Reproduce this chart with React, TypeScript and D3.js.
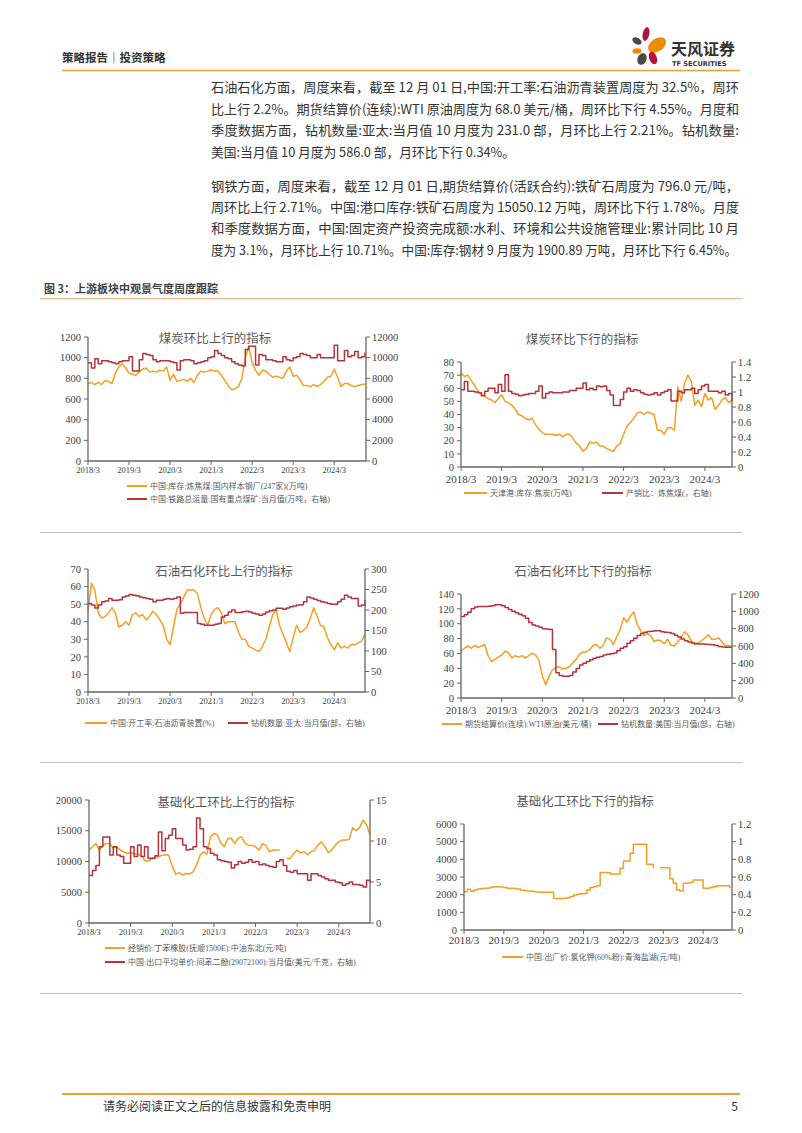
import React from "react";
import * as d3 from "d3";

// ---------- shared ----------
const X_TICK_LABELS = ["2018/3", "2019/3", "2020/3", "2021/3", "2022/3", "2023/3", "2024/3"];
const ORANGE = "#F5A020";
const RED = "#B5343C";

// ---------- chart 1: 煤炭环比上行 ----------
const coalUpTitle = "煤炭环比上行的指标";
const cokingCoalStock = [
  750, 760, 740, 760, 740, 780, 770, 750, 850, 910,
  940, 900, 850, 840, 830, 860, 890, 900, 860, 870,
  860, 880, 870, 910, 780, 840, 770, 780, 790, 770,
  800, 760, 830, 870, 860, 870, 880, 870, 870, 830,
  780, 730, 690, 700, 720, 800, 1000, 1110, 950, 880,
  830, 880, 870, 840, 810, 820, 810, 800, 870, 910,
  820, 830, 790, 730, 730, 720, 740, 720, 740, 770,
  810, 820, 890, 810, 720, 750, 750, 730, 720, 730,
  740, 745,
];
const railFreight = [
  9500, 9000, 9900, 9400, 9700, 9700, 9600, 9500, 9400, 9600,
  9700, 9700, 10100, 8700, 8700, 9800, 10400, 10300, 10200, 9800,
  9600, 9700, 9700, 9700, 9600, 9500, 8800, 9700, 9800, 9800,
  9700, 9400, 9500, 9600, 9700, 10000, 10100, 10700, 10400, 10200,
  10000, 9900, 9600, 9400, 9300, 9200, 10800, 11100, 11100, 9300,
  10300, 10200, 9800, 9800, 9700, 9600, 9600, 10100, 9800, 9700,
  10000, 10100, 10400, 10300, 10200, 10000, 10000, 10300, 10000, 10000,
  10000, 10000, 11200, 9700, 9700, 10700, 10100, 10200, 10600, 10000,
  10100, 10500,
];
const coalUpLegend = ["中国:库存:炼焦煤:国内样本钢厂(247家)(万吨)", "中国:铁路总运量:国有重点煤矿:当月值(万吨，右轴)"];

// ---------- chart 2: 煤炭环比下行 ----------
const coalDownTitle = "煤炭环比下行的指标";
const tianjinCokeStock = [
  72, 69, 70, 66, 62, 58, 56, 54, 52, 51,
  49, 52, 55, 50, 49, 47, 44, 40, 39, 37,
  36, 37, 32, 29, 26, 25, 25, 25, 24, 25,
  23, 25, 25, 22, 18, 16, 12, 14, 19, 18,
  19, 16, 16, 14, 13, 12, 16, 18, 25, 31,
  34, 37, 41, 42, 40, 42, 41, 40, 28, 28,
  25, 30, 30, 28, 61, 50, 64, 70, 65, 47,
  51, 46, 56, 51, 53, 44, 47, 51, 53, 49,
  51,
];
const cokingSalesRatio = [
  1.03, 1.14, 1.01, 1.01, 1.0, 0.99, 0.95, 1.01, 1.05, 1.05,
  0.99, 1.1, 1.01, 1.23, 1.01, 0.98, 0.97, 0.95, 0.96, 0.97,
  0.98, 0.98, 1.01, 1.08, 0.92, 0.98, 1.0, 0.99, 0.99, 0.99,
  1.0, 1.0, 1.02, 1.02, 1.05, 1.05, 1.12, 1.03, 1.05, 1.03,
  1.08, 1.07, 1.08, 1.02, 0.96, 0.82, 0.82, 0.9, 1.0, 1.05,
  1.01, 1.03, 1.02, 0.99, 0.97, 0.96, 0.97, 0.99, 0.96, 0.99,
  1.01, 1.03, 0.88, 0.88, 1.01, 0.99, 1.03, 1.03, 1.05, 0.98,
  1.03, 1.08, 1.1, 1.01, 1.01, 1.01, 0.99, 1.01, 0.96, 0.98,
  0.88,
];
const coalDownLegend = ["天津港:库存:焦炭(万吨)", "产销比：炼焦煤(，右轴)"];

// ---------- chart 3: 石油石化环比上行 ----------
const oilUpTitle = "石油石化环比上行的指标";
const asphaltRate = [
  46, 62, 58, 45, 42, 43, 45, 48, 45, 37,
  38, 40, 38, 44, 45, 43, 44, 41, 43, 46,
  44, 41, 38, 30, 27, 37, 47, 50, 54, 58,
  58, 58, 56, 48, 42, 38, 44, 47, 48, 45,
  39, 40, 40, 40, 34, 30, 30, 26, 25, 24,
  23, 26, 30, 37, 44, 47, 38, 33, 28, 23,
  31, 38, 34, 35, 37, 42, 48, 43, 38, 37,
  31, 27, 24, 28, 25, 26, 25, 27, 27, 28,
  29, 33,
];
const apacRigs = [
  216, 212, 205, 212, 220, 222, 228, 224, 224, 225,
  232, 234, 238, 236, 235, 232, 230, 228, 226, 220,
  224, 224, 226, 228, 226, 228, 232, 192, 194, 194,
  194, 194, 167, 165, 163, 163, 163, 165, 167, 183,
  187, 195, 200, 194, 194, 196, 197, 195, 192, 190,
  187, 190, 195, 198, 200, 204, 204, 202, 205, 208,
  210, 212, 213, 220, 232, 229, 226, 223, 220, 218,
  216, 214, 214, 220, 226, 236, 232, 228, 228, 210,
  212, 225,
];
const oilUpLegend = ["中国:开工率:石油沥青装置(%)", "钻机数量:亚太:当月值(部，右轴)"];

// ---------- chart 4: 石油石化环比下行 ----------
const oilDownTitle = "石油石化环比下行的指标";
const wtiPrice = [
  63, 67, 70, 67, 71, 68, 70, 72, 57, 49,
  52, 55, 58, 63, 61, 54, 57, 55, 57, 54,
  57, 60, 58, 51, 30, 18, 29, 38, 41, 42,
  39, 40, 42, 47, 52, 59, 62, 62, 65, 71,
  72, 67, 71, 81, 79, 72, 83, 92, 108, 102,
  110, 116, 99, 91, 84, 87, 84, 76, 78, 77,
  73, 79, 71, 70, 76, 81, 89, 85, 77, 72,
  74, 77, 81, 85, 79, 79, 81, 76, 70, 71,
  69,
];
const usRigs = [
  940, 960, 990, 1030, 1050, 1055, 1055, 1055, 1060, 1065,
  1075, 1075, 1065, 1045, 1020, 1000, 985, 965, 950, 920,
  870, 843, 830, 815, 800, 795, 790, 560, 290, 260,
  250, 252, 260, 300, 340, 380, 400, 420, 440, 460,
  470, 480, 495, 506, 512, 520, 545, 575, 590, 633,
  660, 690, 720, 745, 760, 767, 770, 775, 775, 765,
  760, 755, 745, 725, 705, 680, 660, 645, 635, 625,
  622, 622, 621, 618, 613, 605, 595, 588, 585, 585,
  585,
];
const oilDownLegend = ["期货结算价(连续):WTI原油(美元/桶)", "钻机数量:美国:当月值(部，右轴)"];

// ---------- chart 5: 基础化工环比上行 ----------
const chemUpTitle = "基础化工环比上行的指标";
const sbrPrice = [
  11850, 12400, 12900, 11800, 12660, 12935, 12900, 12200, 12400, 11850,
  11580, 11300, 11450, 11300, 11200, 11030, 10200, 10000, 10400, 10600,
  10760, 11000, 11100, 11000, 9200, 7900, 8200, 7800, 8040, 8000,
  8300, 9400, 11000, 11580, 11200, 14000, 14560, 14300, 13000, 12400,
  13750, 13800, 12900, 13800, 14000, 13000, 12600, 12660, 12400, 11850,
  12900, 12600, 11580, 11850, 11850, 11850, null, 10490, 10500, 11300,
  11850, 11400, 11580, 11100, 11580, 11850, 12660, 13200, 12400, 11450,
  11900, 12660, 13200, 13480, 13480, 13600, 15500, 15000, 15500, 16700,
  16000, 14300,
];
const resorcinolPrice = [
  5.8, 6.4, 7.0, 9.3, 10.5, 10.5, 8.3, 9.3, 8.3, 8.1,
  7.3, 7.3, 9.3, 8.1, 9.5, 8.1, 9.3, 7.9, 7.9, 8.2,
  11.1, 8.8, 10.3, 10.7, 11.5, 10.3, 10.3, 9.5, 8.9, 9.0,
  9.3, 12.8, 11.5, 9.3, 9.1, 8.5, 8.3, 7.7, 7.6, 7.5,
  7.4, 6.7, 7.1, 7.5, 7.3, 7.4, 7.7, 7.4, 7.5, 7.1,
  7.2, 7.0, 6.9, 6.8, 7.5, 7.7, 7.0, 6.3, 6.2, 6.4,
  6.0, 6.0, 6.0, 5.2, 6.0, 6.0, 5.8, 5.6, 5.4, 5.2,
  5.2, 5.0, 4.9, 4.6, 4.8, 5.0, 4.7, 4.7, 4.6, 4.4,
  5.2, 5.0,
];
const chemUpLegend = ["经销价:丁苯橡胶(抚顺1500E):中油东北(元/吨)", "中国:出口平均单价:间苯二酚(29072100):当月值(美元/千克，右轴)"];

// ---------- chart 6: 基础化工环比下行 ----------
const chemDownTitle = "基础化工环比下行的指标";
const potashPrice = [
  2170, 2300, 2200, 2260, 2320, 2350, 2360, 2380, 2420, 2450,
  2450, 2440, 2400, 2360, 2360, 2350, 2320, 2260, 2240, 2210,
  2190, 2170, 2150, 2130, 2130, 2130, 2130, 1790, 1790, 1790,
  1800, 1830, 1890, 1980, 2020, 2050, 2060, 2260, 2400, 2450,
  2500, 3260, 3260, 3240, 3170, 3170, 3170, 3490, 3900, 3900,
  4340, 4850, 4850, 4850, 4850, 3720, 3720, 3490, null, 3530,
  3530, 3530, 2900, 2640, 2260, 2210, 2640, 2640, 2700, 2830,
  2830, 2830, 2360, 2360, 2400, 2450, 2510, 2510, 2510, 2510,
  2360,
];
const chemDownLegend = ["中国:出厂价:氯化钾(60%粉):青海盐湖(元/吨)"];

// ---------- text ----------
const headerText = "策略报告｜投资策略";
const bodyLines = [
  "石油石化方面，周度来看，截至 12 月 01 日,中国:开工率:石油沥青装置周度为 32.5%，周环",
  "比上行 2.2%。期货结算价(连续):WTI 原油周度为 68.0 美元/桶，周环比下行 4.55%。月度和",
  "季度数据方面，钻机数量:亚太:当月值 10 月度为 231.0 部，月环比上行 2.21%。钻机数量:",
  "美国:当月值 10 月度为 586.0 部，月环比下行 0.34%。",
  "钢铁方面，周度来看，截至 12 月 01 日,期货结算价(活跃合约):铁矿石周度为 796.0 元/吨，",
  "周环比上行 2.71%。中国:港口库存:铁矿石周度为 15050.12 万吨，周环比下行 1.78%。月度",
  "和季度数据方面，中国:固定资产投资完成额:水利、环境和公共设施管理业:累计同比 10 月",
  "度为 3.1%，月环比上行 10.71%。中国:库存:钢材 9 月度为 1900.89 万吨，月环比下行 6.45%。",
];
const captionText = "图 3：上游板块中观景气度周度跟踪";
const footerText = "请务必阅读正文之后的信息披露和免责申明";

const SERIF = '"Liberation Serif", "Times New Roman", "Noto Sans CJK SC", serif';
const CJK = '"Noto Sans CJK SC", "Noto Sans", sans-serif';

type Series = { values: (number | null)[]; axis: "left" | "right"; color: string; step?: boolean };
type Cfg = {
  l: number; r: number; t: number; b: number; end: number;
  leftMax: number; leftStep: number; rightMax: number; rightStep: number;
  series: Series[];
  title: string; titleX: number; titleY: number;
  xLabelSize: number; xLabelY: number;
  legend: { x1: number; x2: number; y: number; text: string; color: string }[];
};

const fmt = (v: number) => String(+v.toFixed(2));

function Chart({ c }: { c: Cfg }) {
  const x = d3.scaleLinear().domain([0, c.end]).range([c.l, c.r]);
  const yL = d3.scaleLinear().domain([0, c.leftMax]).range([c.b, c.t]);
  const yR = d3.scaleLinear().domain([0, c.rightMax]).range([c.b, c.t]);
  const lt = d3.range(0, c.leftMax + c.leftStep / 2, c.leftStep);
  const rt = d3.range(0, c.rightMax + c.rightStep / 2, c.rightStep);
  const xt = X_TICK_LABELS.map((_, i) => i * 12);
  const axisColor = "#666";
  const labelColor = "#404040";
  return (
    <g>
      {c.series.map((s, i) => {
        const y = s.axis === "left" ? yL : yR;
        const line = d3
          .line<number | null>()
          .defined((v) => v != null)
          .x((_, j) => x(j))
          .y((v) => y(v as number))
          .curve(s.step ? d3.curveStepAfter : d3.curveLinear);
        return <path key={i} d={line(s.values) || ""} fill="none" stroke={s.color} strokeWidth={1.5} strokeLinejoin="round" />;
      })}
      <line x1={c.l} x2={c.l} y1={c.t} y2={c.b} stroke={axisColor} strokeWidth={1.3} />
      {lt.map((v) => (
        <g key={"l" + v}>
          <line x1={c.l - 4} x2={c.l} y1={yL(v)} y2={yL(v)} stroke={axisColor} strokeWidth={1} />
          <text x={c.l - 7} y={yL(v)} dy="0.35em" textAnchor="end" fontSize={10.5} fontFamily={SERIF} fill={labelColor}>
            {fmt(v)}
          </text>
        </g>
      ))}
      <line x1={c.r} x2={c.r} y1={c.t} y2={c.b} stroke={axisColor} strokeWidth={1.3} />
      {rt.map((v) => (
        <g key={"r" + v}>
          <line x1={c.r} x2={c.r + 4} y1={yR(v)} y2={yR(v)} stroke={axisColor} strokeWidth={1} />
          <text x={c.r + 6} y={yR(v)} dy="0.35em" textAnchor="start" fontSize={10.5} fontFamily={SERIF} fill={labelColor}>
            {fmt(v)}
          </text>
        </g>
      ))}
      <line x1={c.l} x2={c.r} y1={c.b} y2={c.b} stroke={axisColor} strokeWidth={1.3} />
      {xt.map((m, i) => (
        <g key={"x" + m}>
          <line x1={x(m)} x2={x(m)} y1={c.b} y2={c.b + 4} stroke={axisColor} strokeWidth={1} />
          <text x={x(m)} y={c.xLabelY} dy="0.35em" textAnchor="middle" fontSize={c.xLabelSize} fontFamily={SERIF} fill={labelColor}>
            {X_TICK_LABELS[i]}
          </text>
        </g>
      ))}
      <text x={c.titleX} y={c.titleY} dy="0.36em" textAnchor="middle" fontSize={12.5} fontFamily={SERIF} fill="#595959">
        {c.title}
      </text>
      {c.legend.map((g, i) => (
        <g key={"g" + i}>
          <line x1={g.x1} x2={g.x2} y1={g.y} y2={g.y} stroke={g.color} strokeWidth={2} />
          <text x={g.x2 + 3} y={g.y} dy="0.35em" fontSize={8} fontFamily={SERIF} fill="#595959">
            {g.text}
          </text>
        </g>
      ))}
    </g>
  );
}

const charts: Cfg[] = [
  {
    l: 88, r: 366, t: 337, b: 461, end: 81.3,
    leftMax: 1200, leftStep: 200, rightMax: 12000, rightStep: 2000,
    series: [
      { values: cokingCoalStock, axis: "left", color: ORANGE },
      { values: railFreight, axis: "right", color: RED, step: true },
    ],
    title: coalUpTitle, titleX: 215, titleY: 338, xLabelSize: 8.5, xLabelY: 470,
    legend: [
      { x1: 127, x2: 147, y: 486, text: coalUpLegend[0], color: ORANGE },
      { x1: 127, x2: 147, y: 499, text: coalUpLegend[1], color: RED },
    ],
  },
  {
    l: 461, r: 732, t: 362, b: 467, end: 80,
    leftMax: 80, leftStep: 10, rightMax: 1.4, rightStep: 0.2,
    series: [
      { values: tianjinCokeStock, axis: "left", color: ORANGE },
      { values: cokingSalesRatio, axis: "right", color: RED, step: true },
    ],
    title: coalDownTitle, titleX: 582, titleY: 339, xLabelSize: 11, xLabelY: 479,
    legend: [
      { x1: 464, x2: 487, y: 493, text: coalDownLegend[0], color: ORANGE },
      { x1: 602, x2: 623, y: 493, text: coalDownLegend[1], color: RED },
    ],
  },
  {
    l: 88, r: 365, t: 569, b: 692, end: 81,
    leftMax: 70, leftStep: 10, rightMax: 300, rightStep: 50,
    series: [
      { values: asphaltRate, axis: "left", color: ORANGE },
      { values: apacRigs, axis: "right", color: RED, step: true },
    ],
    title: oilUpTitle, titleX: 224, titleY: 571, xLabelSize: 8.5, xLabelY: 701,
    legend: [
      { x1: 85, x2: 107, y: 723, text: oilUpLegend[0], color: ORANGE },
      { x1: 228, x2: 248, y: 723, text: oilUpLegend[1], color: RED },
    ],
  },
  {
    l: 461, r: 732, t: 594, b: 698, end: 80,
    leftMax: 140, leftStep: 20, rightMax: 1200, rightStep: 200,
    series: [
      { values: wtiPrice, axis: "left", color: ORANGE },
      { values: usRigs, axis: "right", color: RED, step: true },
    ],
    title: oilDownTitle, titleX: 583, titleY: 571, xLabelSize: 11, xLabelY: 710,
    legend: [
      { x1: 442, x2: 462, y: 724, text: oilDownLegend[0], color: ORANGE },
      { x1: 598, x2: 618, y: 724, text: oilDownLegend[1], color: RED },
    ],
  },
  {
    l: 89, r: 370, t: 800, b: 923, end: 81,
    leftMax: 20000, leftStep: 5000, rightMax: 15, rightStep: 5,
    series: [
      { values: sbrPrice, axis: "left", color: ORANGE },
      { values: resorcinolPrice, axis: "right", color: RED, step: true },
    ],
    title: chemUpTitle, titleX: 226, titleY: 802, xLabelSize: 8.5, xLabelY: 932,
    legend: [
      { x1: 105, x2: 125, y: 948, text: chemUpLegend[0], color: ORANGE },
      { x1: 105, x2: 125, y: 962, text: chemUpLegend[1], color: RED },
    ],
  },
  {
    l: 464, r: 732, t: 824, b: 930, end: 80.7,
    leftMax: 6000, leftStep: 1000, rightMax: 1.2, rightStep: 0.2,
    series: [{ values: potashPrice, axis: "left", color: ORANGE, step: true }],
    title: chemDownTitle, titleX: 585, titleY: 801, xLabelSize: 11, xLabelY: 940,
    legend: [{ x1: 502, x2: 523, y: 957, text: chemDownLegend[0], color: ORANGE }],
  },
];

function Logo() {
  return (
    <g>
      <ellipse cx={646} cy={34} rx={3.3} ry={7} fill="#B3123E" transform="rotate(12 646 34)" />
      <ellipse cx={637} cy={41} rx={5} ry={3.2} fill="#4A4A4A" transform="rotate(30 637 41)" />
      <ellipse cx={657} cy={45} rx={10} ry={6.5} fill="#F08A00" transform="rotate(-35 657 45)" />
      <ellipse cx={637} cy={51} rx={4.5} ry={2.8} fill="#F08A00" />
      <ellipse cx={642} cy={59} rx={4.5} ry={6} fill="#4A4A4A" transform="rotate(20 642 59)" />
      <ellipse cx={653} cy={58} rx={3.8} ry={6.5} fill="#B3123E" transform="rotate(-20 653 58)" />
      <text x={671} y={55} fontSize={16} fontWeight="bold" fontFamily={CJK} fill="#333">天风证券</text>
      <text x={672} y={66} fontSize={6.6} fontWeight="bold" fontFamily='"DejaVu Sans", sans-serif' fill="#333">TF SECURITIES</text>
    </g>
  );
}

export default function App() {
  const bodyY = [92, 114, 135, 157, 191, 212, 233, 255];
  const bodyWidths = [528, 528, 528, 304, 528, 528, 528, 526];
  return (
    <svg width={802} height={1133} style={{ position: "absolute", left: 0, top: 0, background: "#fff" }}>
      <rect width={802} height={1133} fill="#fff" />
      <text x={62} y={62} fontSize={11.5} fontWeight="bold" fontFamily={CJK} fill="#333">{headerText}</text>
      <Logo />
      <line x1={62} x2={740} y1={70.5} y2={70.5} stroke="#F0A030" strokeWidth={1.5} />
      {bodyLines.map((s, i) => (
        <text key={i} x={211} y={bodyY[i]} fontSize={13} fontFamily={CJK} fill="#333" textLength={bodyWidths[i]} lengthAdjust="spacingAndGlyphs">
          {s}
        </text>
      ))}
      <text x={44} y={293} fontSize={11} fontWeight="bold" fontFamily={CJK} fill="#404040">{captionText}</text>
      <line x1={40} x2={742} y1={298.5} y2={298.5} stroke="#F4B183" strokeWidth={1} />
      {[532, 762, 993].map((y) => (
        <line key={y} x1={40} x2={742} y1={y + 0.5} y2={y + 0.5} stroke="#BFBFBF" strokeWidth={1} />
      ))}
      {charts.map((c, i) => (
        <Chart key={i} c={c} />
      ))}
      <line x1={62} x2={740} y1={1094} y2={1094} stroke="#F0A030" strokeWidth={2} />
      <text x={103} y={1111} fontSize={12} fontFamily={CJK} fill="#333">{footerText}</text>
      <text x={738} y={1111} fontSize={12} fontFamily={CJK} fill="#333" textAnchor="end">5</text>
    </svg>
  );
}
